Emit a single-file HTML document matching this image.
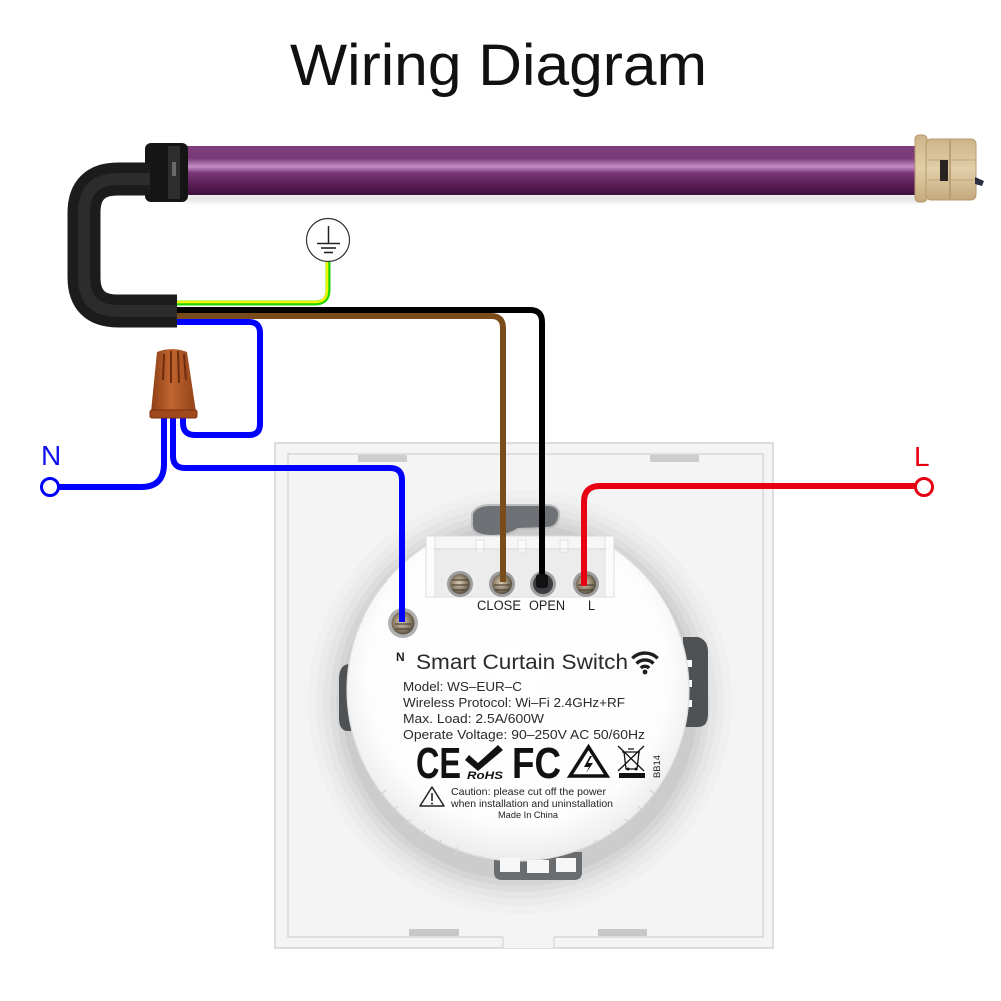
<!DOCTYPE html>
<html><head><meta charset="utf-8"><style>
html,body{margin:0;padding:0;background:#fff;}
svg{display:block;}
text{font-family:"Liberation Sans",Arial,sans-serif;}
</style></head><body>
<svg width="1001" height="1001" viewBox="0 0 1001 1001" xmlns="http://www.w3.org/2000/svg">
<defs>
<linearGradient id="tube" x1="0" y1="0" x2="0" y2="1">
<stop offset="0" stop-color="#7d3e7b"/><stop offset="0.25" stop-color="#7a3a78"/>
<stop offset="0.42" stop-color="#c48ec4"/><stop offset="0.55" stop-color="#7a3678"/>
<stop offset="0.78" stop-color="#5a1f56"/><stop offset="1" stop-color="#3e0f3a"/>
</linearGradient>
<linearGradient id="cap" x1="0" y1="0" x2="0" y2="1">
<stop offset="0" stop-color="#cdb48a"/><stop offset="0.5" stop-color="#e2cfa8"/><stop offset="1" stop-color="#c4a97d"/>
</linearGradient>
<linearGradient id="nut" x1="0" y1="0" x2="1" y2="0">
<stop offset="0" stop-color="#8e3f16"/><stop offset="0.45" stop-color="#c0652f"/><stop offset="1" stop-color="#93421a"/>
</linearGradient>
<radialGradient id="scr" cx="0.45" cy="0.45" r="0.6">
<stop offset="0" stop-color="#d9ccb3"/><stop offset="0.6" stop-color="#8d7f68"/><stop offset="1" stop-color="#4a4136"/>
</radialGradient>
<radialGradient id="mod" cx="0.5" cy="0.45" r="0.55">
<stop offset="0" stop-color="#ffffff"/><stop offset="0.8" stop-color="#fdfdfd"/><stop offset="1" stop-color="#ececec"/>
</radialGradient>
<filter id="blur2" x="-30%" y="-30%" width="160%" height="160%"><feGaussianBlur stdDeviation="3"/></filter>
<clipPath id="modclip"><path d="M0 0 H426 V537 H614 V0 H1001 V1001 H0 Z"/></clipPath>
</defs>

<!-- Title -->
<text x="290" y="85" font-size="58" fill="#111" textLength="417" lengthAdjust="spacingAndGlyphs">Wiring Diagram</text>

<!-- Motor tube -->
<rect x="185" y="194" width="740" height="8" fill="#d8d8d8" filter="url(#blur2)" opacity="0.7"/>
<rect x="180" y="146" width="747" height="49" fill="url(#tube)"/>
<!-- end cap -->
<rect x="915" y="135" width="12" height="67" rx="4" fill="url(#cap)" stroke="#b89a6c" stroke-width="1"/>
<rect x="926" y="139" width="50" height="61" rx="5" fill="url(#cap)" stroke="#b89a6c" stroke-width="1"/>
<line x1="950" y1="140" x2="950" y2="199" stroke="#b3956a" stroke-width="1.5"/>
<line x1="927" y1="160" x2="975" y2="160" stroke="#c2a679" stroke-width="1"/>
<line x1="927" y1="180" x2="975" y2="180" stroke="#c2a679" stroke-width="1"/>
<rect x="940" y="160" width="8" height="21" fill="#2a2420"/>
<path d="M975 177 L984 181 L982 186 L975 184 Z" fill="#2b3040"/>
<!-- collar -->
<rect x="145" y="143" width="43" height="59" rx="6" fill="#151515"/>
<rect x="168" y="146" width="12" height="53" fill="#2e2e2e"/>
<rect x="172" y="162" width="4" height="14" fill="#6a6a6a"/>

<!-- Earth symbol -->
<circle cx="328" cy="240" r="21.5" fill="#fff" stroke="#333" stroke-width="1.2"/>
<line x1="328.5" y1="226" x2="328.5" y2="243" stroke="#222" stroke-width="1.5"/>
<line x1="317" y1="243.5" x2="340" y2="243.5" stroke="#222" stroke-width="1.6"/>
<line x1="321" y1="248" x2="336" y2="248" stroke="#222" stroke-width="1.6"/>
<line x1="324" y1="252.5" x2="333" y2="252.5" stroke="#222" stroke-width="1.6"/>

<!-- Switch plate -->
<rect x="275" y="443" width="498" height="505" fill="#f4f4f4" stroke="#d4d4d4" stroke-width="1.5"/>
<g fill="#000000">
<circle cx="520" cy="702" r="212" fill-opacity="0.015"/>
<circle cx="520" cy="702" r="204" fill-opacity="0.02"/>
<circle cx="520" cy="702" r="197" fill-opacity="0.025"/>
<circle cx="520" cy="702" r="190" fill-opacity="0.03"/>
<circle cx="520" cy="702" r="184" fill-opacity="0.035"/>
<circle cx="520" cy="702" r="178" fill-opacity="0.04"/>
</g>
<rect x="288" y="454" width="475" height="483" fill="none" stroke="#d0d0d0" stroke-width="1.2"/>
<rect x="503" y="934" width="51" height="14" fill="#f3f3f3"/>
<line x1="503" y1="937" x2="503" y2="948" stroke="#d0d0d0" stroke-width="1"/>
<line x1="554" y1="937" x2="554" y2="948" stroke="#d0d0d0" stroke-width="1"/>
<!-- tabs -->
<rect x="358" y="455" width="49" height="7" fill="#cdcdcd"/>
<rect x="650" y="455" width="49" height="7" fill="#cdcdcd"/>
<rect x="409" y="929" width="50" height="7" fill="#c8c8c8"/>
<rect x="598" y="929" width="49" height="7" fill="#c8c8c8"/>

<!-- Side clips -->
<path d="M352 663 L345 665 Q339 668 339 680 L339 718 Q339 729 346 731 L358 731 L358 663 Z" fill="#4f5255"/>
<rect x="349" y="674" width="10" height="7" fill="#fafafa"/>
<rect x="349" y="692" width="10" height="7" fill="#fafafa"/>
<rect x="349" y="710" width="10" height="7" fill="#fafafa"/>
<path d="M683 637 L698 637 Q708 640 708 652 L708 714 Q708 727 698 727 L683 727 Z" fill="#4f5255"/>
<rect x="682" y="660" width="10" height="7" fill="#fafafa"/>
<rect x="682" y="680" width="10" height="7" fill="#fafafa"/>
<rect x="682" y="700" width="10" height="7" fill="#fafafa"/>

<!-- bottom tab -->
<path d="M494 852 L582 852 L582 872 Q582 880 574 880 L502 880 Q494 880 494 872 Z" fill="#6a6d70"/>

<!-- Module -->
<g clip-path="url(#modclip)">
<circle cx="518" cy="690" r="171" fill="url(#mod)" stroke="#dedede" stroke-width="1.2"/>
</g>
<!-- bottom tab white teeth -->
<rect x="500" y="858" width="20" height="14" fill="#f7f7f7"/>
<rect x="527" y="860" width="22" height="13" fill="#f7f7f7"/>
<rect x="556" y="858" width="20" height="14" fill="#f7f7f7"/>
<!-- edge notches -->
<g stroke="#d2d2d2" stroke-width="1.2">
<line x1="380" y1="795" x2="386" y2="790"/><line x1="392" y1="812" x2="398" y2="806"/>
<line x1="405" y1="826" x2="411" y2="819"/><line x1="420" y1="838" x2="425" y2="830"/>
<line x1="437" y1="848" x2="441" y2="840"/><line x1="455" y1="855" x2="458" y2="847"/>
<line x1="656" y1="795" x2="650" y2="790"/><line x1="644" y1="812" x2="638" y2="806"/>
<line x1="631" y1="826" x2="625" y2="819"/><line x1="616" y1="838" x2="611" y2="830"/>
<line x1="599" y1="848" x2="595" y2="840"/>
<line x1="355" y1="620" x2="362" y2="622"/><line x1="380" y1="578" x2="386" y2="583"/>
</g>
<!-- Gray slot -->
<path d="M472 514 Q476 505 490 505 L546 505 Q560 505 559 516 Q558 528 546 528 L518 529 Q508 536 492 536 Q470 536 472 522 Z" fill="#6e7276" stroke="#bdbdbd" stroke-width="2"/>

<!-- Terminal housing -->
<rect x="426" y="536" width="188" height="61" fill="#f6f6f6" stroke="#dadada" stroke-width="1"/>
<rect x="434" y="549" width="172" height="47" fill="#ececec"/>
<g fill="#fbfbfb" stroke="#dcdcdc" stroke-width="0.8">
<rect x="426" y="536" width="9" height="61"/>
<rect x="605" y="536" width="9" height="61"/>
<rect x="476" y="540" width="8" height="12"/>
<rect x="518" y="540" width="8" height="12"/>
<rect x="560" y="540" width="8" height="12"/>
</g>
<line x1="434" y1="549" x2="606" y2="549" stroke="#d8d8d8" stroke-width="1"/>

<!-- Screws -->
<g>
<circle cx="460" cy="584" r="13" fill="#9c9c9c"/><circle cx="460" cy="584" r="10" fill="url(#scr)"/>
<line x1="452" y1="580" x2="468" y2="580" stroke="#4b4237" stroke-width="1.2"/><line x1="452" y1="585" x2="468" y2="585" stroke="#4b4237" stroke-width="1.2"/><line x1="453" y1="590" x2="467" y2="590" stroke="#4b4237" stroke-width="1.2"/>
<circle cx="502" cy="584" r="13" fill="#9c9c9c"/><circle cx="502" cy="584" r="10" fill="url(#scr)"/>
<line x1="494" y1="585" x2="510" y2="585" stroke="#4b4237" stroke-width="1.2"/><line x1="495" y1="590" x2="509" y2="590" stroke="#4b4237" stroke-width="1.2"/>
<circle cx="543" cy="584" r="13" fill="#a0a0a0"/><circle cx="543" cy="584" r="10" fill="#3a3c40"/>
<circle cx="586" cy="584" r="13" fill="#9c9c9c"/><circle cx="586" cy="584" r="10" fill="url(#scr)"/>
<line x1="578" y1="585" x2="594" y2="585" stroke="#4b4237" stroke-width="1.2"/><line x1="579" y1="590" x2="593" y2="590" stroke="#4b4237" stroke-width="1.2"/>
<!-- N screw -->
<circle cx="403" cy="623" r="15" fill="#b0b0b0"/><circle cx="403" cy="623" r="11.5" fill="url(#scr)"/>
<line x1="395" y1="624" x2="411" y2="624" stroke="#4b4237" stroke-width="1.2"/><line x1="396" y1="629" x2="410" y2="629" stroke="#4b4237" stroke-width="1.2"/>
</g>

<!-- Terminal labels -->
<g fill="#1e1e1e" font-size="13.5">
<text x="477" y="610" textLength="44" lengthAdjust="spacingAndGlyphs">CLOSE</text>
<text x="529" y="610" textLength="36" lengthAdjust="spacingAndGlyphs">OPEN</text>
<text x="588" y="610" textLength="7" lengthAdjust="spacingAndGlyphs">L</text>
</g>

<!-- Module label text -->
<text x="396" y="661" font-size="12" font-weight="bold" fill="#1e1e1e">N</text>
<text x="416" y="669" font-size="21.5" fill="#2a2a2a" textLength="212" lengthAdjust="spacingAndGlyphs">Smart Curtain Switch</text>
<!-- wifi -->
<g fill="none" stroke="#1e1e1e" stroke-width="3.4" stroke-linecap="butt">
<path d="M632.3 658.3 A18 18 0 0 1 657.7 658.3"/>
<path d="M636.5 663.5 A12 12 0 0 1 653.5 663.5"/>
<path d="M640.8 668 A6 6 0 0 1 649.2 668"/>
</g>
<circle cx="645" cy="672" r="2.4" fill="#1e1e1e"/>

<g fill="#2a2a2a" font-size="13">
<text x="403" y="691" textLength="119" lengthAdjust="spacingAndGlyphs">Model: WS–EUR–C</text>
<text x="403" y="707" textLength="222" lengthAdjust="spacingAndGlyphs">Wireless Protocol: Wi–Fi 2.4GHz+RF</text>
<text x="403" y="723" textLength="141" lengthAdjust="spacingAndGlyphs">Max. Load: 2.5A/600W</text>
<text x="403" y="739" textLength="242" lengthAdjust="spacingAndGlyphs">Operate Voltage: 90–250V AC 50/60Hz</text>
</g>

<!-- certification icons -->
<text x="416" y="778" font-size="44" font-weight="bold" fill="#111" textLength="45" lengthAdjust="spacingAndGlyphs">CE</text>
<path d="M469 755 L478 763 L498 745 L503 750 L478 771 L465 760 Z" fill="#111"/>
<text x="467" y="779" font-size="11" font-weight="bold" font-style="italic" fill="#111" textLength="36" lengthAdjust="spacingAndGlyphs">RoHS</text>
<text x="512" y="778" font-size="44" font-weight="bold" fill="#111" textLength="49" lengthAdjust="spacingAndGlyphs">FC</text>
<path d="M588.5 747 L607 776 L570 776 Z" fill="none" stroke="#111" stroke-width="3.5" stroke-linejoin="miter"/>
<path d="M590 756 L584 767 L589 767 L586 773 L593 763 L588 763 L592 756 Z" fill="#111"/>
<g stroke="#111" stroke-width="1.3" fill="none">
<path d="M622 752 L640 752 M624 752 L626 769 L637 769 L639 752 M628 749 L634 749"/>
<line x1="618" y1="746" x2="644" y2="771"/><line x1="644" y1="746" x2="618" y2="771"/>
</g>
<circle cx="628" cy="769" r="1.5" fill="#111"/><circle cx="636" cy="769" r="1.5" fill="#111"/>
<rect x="619" y="773" width="26" height="5" fill="#111"/>
<text transform="translate(660 778) rotate(-90)" font-size="9" fill="#222" textLength="23" lengthAdjust="spacingAndGlyphs">BB14</text>

<!-- caution -->
<path d="M432 787 L444 806 L420 806 Z" fill="none" stroke="#222" stroke-width="1.5" stroke-linejoin="round"/>
<line x1="432" y1="793" x2="432" y2="801" stroke="#222" stroke-width="1.6"/>
<circle cx="432" cy="803.5" r="1" fill="#222"/>
<g fill="#222">
<text x="451" y="795" font-size="10.5" textLength="155" lengthAdjust="spacingAndGlyphs">Caution: please cut off the power</text>
<text x="451" y="807" font-size="10.5" textLength="162" lengthAdjust="spacingAndGlyphs">when installation and uninstallation</text>
<text x="498" y="818" font-size="9.5" textLength="60" lengthAdjust="spacingAndGlyphs">Made In China</text>
</g>

<!-- Wires -->
<g fill="none" stroke-linecap="butt" stroke-linejoin="round">
<path d="M170 303 H315 Q328 303 328 290 V262" stroke="#22d400" stroke-width="5"/>
<path d="M170 302 H315 Q327 302 327 290 V262" stroke="#f2f500" stroke-width="2.5"/>
<path d="M170 310 H530 Q542 310 542 322 V582" stroke="#000" stroke-width="6"/>
<path d="M170 316 H491 Q503 316 503 328 V582" stroke="#7a4c1c" stroke-width="6"/>
<path d="M170 322 H249 Q260 322 260 333 V424 Q260 435 249 435 H195 Q183 435 183 423 V412" stroke="#0000ff" stroke-width="6"/>
<path d="M173 412 V456 Q173 468 185 468 H390 Q402 468 402 480 V622" stroke="#0000ff" stroke-width="6"/>
<path d="M164 412 V464 Q164 487 141 487 H58" stroke="#0000ff" stroke-width="6"/>
<path d="M916 486 H600 Q584 486 584 502 V586" stroke="#e60012" stroke-width="6"/>
</g>
<rect x="536" y="574" width="12" height="14" rx="3" fill="#111"/>

<!-- N / L terminals -->
<circle cx="50" cy="487" r="8.5" fill="#fff" stroke="#0000ff" stroke-width="3"/>
<text x="41" y="465" font-size="28" fill="#1010ee">N</text>
<circle cx="924" cy="487" r="8.5" fill="#fff" stroke="#e60012" stroke-width="3"/>
<text x="914" y="466" font-size="28" fill="#e60012">L</text>

<!-- Black cable -->
<path d="M150 179 H118 Q84 179 84 213 V277 Q84 311 118 311 H177" fill="none" stroke="#1c1c1c" stroke-width="33"/>
<path d="M150 179 H118 Q84 179 84 213 V277 Q84 311 118 311 H177" fill="none" stroke="#2c2c2c" stroke-width="12"/>

<!-- Wire nut -->
<path d="M157 352 Q172 346 187 352 L196 412 L151 412 Z" fill="url(#nut)"/>
<g stroke="#6e2c0c" stroke-width="2">
<line x1="164" y1="354" x2="163" y2="380"/><line x1="171" y1="351" x2="171" y2="383"/>
<line x1="178" y1="351" x2="179" y2="383"/><line x1="184" y1="354" x2="186" y2="380"/>
</g>
<rect x="150" y="410" width="47" height="8" rx="2" fill="#a04a1c" stroke="#7a3210" stroke-width="1"/>
</svg>
</body></html>
